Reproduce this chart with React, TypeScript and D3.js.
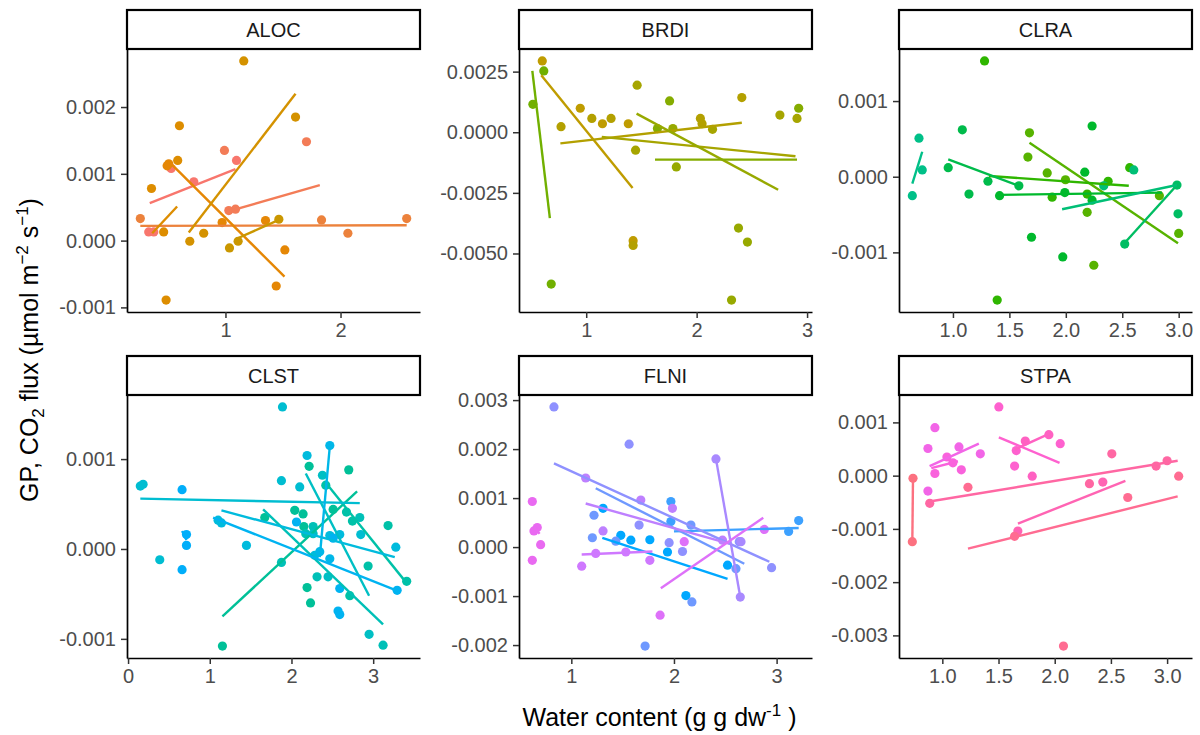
import React, { useEffect, useRef } from "react";
import * as d3 from "d3";

// each point: [water content, GP CO2 flux, fitted line index within the panel]
// each fit: [x start, y start, x end, y end] of the per-group linear fit

const species = ["ALOC", "BRDI", "CLRA", "CLST", "FLNI", "STPA"];

const alocPoints = [
  [0.333, 0.00013, 0], [0.377, 0.00013, 0], [0.528, 0.00108, 0], [0.725, 0.00088, 0], [1.096, 0.0012, 0],
  [0.991, 0.00135, 1], [1.029, 0.00045, 1], [1.087, 0.00047, 1], [1.704, 0.00148, 1],
  [0.26, 0.00033, 2], [1.835, 0.00031, 2], [2.575, 0.00033, 2], [2.064, 0.00011, 2],
  [0.507, 0.00115, 3], [0.493, 0.00112, 3], [0.971, 0.00027, 3], [1.348, 0.0003, 3], [1.516, -0.00014, 3], [1.441, -0.00068, 3],
  [0.357, 0.00078, 4], [0.463, 0.00013, 4], [0.6, 0.00172, 4], [0.585, 0.0012, 4], [0.484, -0.00089, 4],
  [0.69, -0.00001, 5], [0.811, 0.00011, 5], [1.159, 0.00269, 5], [1.609, 0.00185, 5],
  [1.11, -0.00001, 6], [1.035, -0.00011, 6], [1.464, 0.00032, 6],
];
const alocFits = [
  [0.342, 0.00056, 1.087, 0.00107],
  [1.009, 0.00043, 1.82, 0.00083],
  [0.26, 0.00022, 2.575, 0.00023],
  [0.522, 0.00116, 1.513, -0.00054],
  [0.363, 0.00011, 0.58, 0.00051],
  [0.681, 0.00012, 1.609, 0.0022],
  [1.087, 0.00002, 1.464, 0.00031],
];

const brdiPoints = [
  [0.602, 0.00294, 0], [0.946, 0.00099, 0], [1.147, 0.00035, 0], [1.381, 0.00035, 0], [1.425, -0.00447, 0],
  [0.772, 0.00023, 1], [1.051, 0.00057, 1], [1.225, 0.00057, 1], [1.425, -0.00467, 1], [2.034, 0.00057, 1], [2.049, 0.00035, 1], [2.409, 0.00143, 1],
  [1.461, 0.00194, 2], [1.447, -0.00074, 2], [2.144, 0.00012, 2], [2.754, 0.00071, 2], [2.909, 0.00057, 2],
  [1.785, 0.00015, 3], [1.816, -0.00143, 3], [2.379, -0.00395, 3], [2.46, -0.00453, 3], [2.316, -0.00692, 3],
  [1.755, 0.00129, 4], [1.645, 0.00015, 4], [2.924, 0.00099, 4],
  [0.616, 0.00253, 5], [0.517, 0.00115, 5], [0.683, -0.00626, 5],
];
const brdiFits = [
  [0.593, 0.00235, 1.42, -0.0023],
  [0.766, -0.00046, 2.409, 0.00039],
  [1.141, -0.00019, 2.895, -0.00099],
  [1.456, 0.00077, 2.738, -0.00237],
  [1.623, -0.00113, 2.909, -0.00113],
  [0.512, 0.00253, 0.671, -0.00354],
];

const clraPoints = [
  [1.678, 0.00058, 0], [1.664, 0.00026, 0], [1.835, 0.00005, 0], [1.997, -0.00004, 0], [2.189, -0.00047, 0], [2.248, -0.00117, 0], [2.829, -0.00025, 0], [3.0, -0.00075, 0],
  [1.28, 0.00153, 1], [1.392, -0.00163, 1], [1.879, -0.00027, 1], [2.189, -0.00023, 1], [2.375, -0.00006, 1], [2.566, 0.00012, 1],
  [1.413, -0.00025, 2], [1.696, -0.0008, 2], [1.991, -0.00021, 2], [2.168, 0.00006, 2], [2.233, 0.00067, 2], [2.233, -0.00031, 2], [1.973, -0.00106, 2],
  [1.083, 0.00062, 3], [0.958, 0.00012, 3], [1.142, -0.00023, 3], [1.31, -0.00006, 3], [1.584, -0.00012, 3],
  [2.522, -0.00089, 4], [2.985, -0.00011, 4], [2.994, -0.00049, 4],
  [2.336, -0.00012, 5], [2.602, 0.00009, 5],
  [0.699, 0.00051, 6], [0.728, 0.00009, 6], [0.64, -0.00025, 6],
];
const clraFits = [
  [1.678, 0.00045, 2.994, -0.00088],
  [1.319, 0.00001, 2.558, -0.00012],
  [1.407, -0.00024, 2.852, -0.00021],
  [0.958, 0.00023, 1.584, -0.00012],
  [2.513, -0.00089, 2.985, -0.00011],
  [1.967, -0.00043, 2.985, -0.00011],
  [0.64, -0.00009, 0.728, 0.00033],
];

const clstPoints = [
  [1.155, -0.00108, 0], [1.673, 0.00035, 0], [2.04, 0.00043, 0], [2.142, 0.00039, 0], [2.151, 0.00025, 0], [2.191, -0.00043, 0], [2.233, -0.0006, 0], [2.51, 0.00044, 0], [2.701, 0.00088, 0], [2.216, 0.00092, 0],
  [2.42, 0.00071, 1], [2.673, 0.00041, 1], [2.746, 0.00031, 1], [3.182, 0.00026, 1], [3.41, -0.00036, 1], [2.938, -0.00019, 1], [2.714, -0.00052, 1],
  [1.877, -0.00015, 2], [2.265, 0.00025, 2], [2.175, 0.00017, 2], [2.313, -0.00031, 2], [3.121, -0.00107, 2], [2.836, 0.00035, 2],
  [2.379, 0.00082, 3], [2.265, 0.00017, 3], [2.448, -0.00031, 3], [2.95, -0.00095, 3],
  [0.15, 0.0007, 4], [0.184, 0.00072, 4], [0.388, -0.00012, 4], [1.89, 0.00158, 4], [1.877, 0.00076, 4], [2.101, 0.00069, 4], [2.848, 0.00016, 4],
  [1.102, 0.00032, 5], [1.143, 0.00029, 5], [1.449, 0.00004, 5], [2.191, 0.00104, 5], [2.469, 0.00015, 5], [2.591, 0.00016, 5], [2.285, -0.00007, 5], [3.277, 0.00002, 5],
  [2.469, 0.00115, 6], [2.346, -0.00003, 6], [2.469, -0.00011, 6],
  [2.061, 0.0003, 7], [2.591, -0.00044, 7], [2.57, -0.00069, 7], [2.591, -0.00073, 7], [3.293, -0.00046, 7], [2.51, 0.00012, 7],
  [0.661, 0.00066, 8], [0.715, 0.00016, 8], [0.715, 0.00004, 8], [0.661, -0.00023, 8],
];
const clstFits = [
  [1.155, -0.00075, 2.803, 0.00064],
  [2.408, 0.00075, 3.41, -0.00038],
  [1.653, 0.00044, 3.121, -0.00084],
  [2.175, 0.00084, 2.95, -0.00052],
  [0.15, 0.00056, 2.836, 0.00051],
  [1.143, 0.00043, 3.264, -0.00009],
  [2.469, 0.00114, 2.346, -0.00009],
  [1.041, 0.00035, 3.305, -0.00047],
  [0.661, 0.0002, 0.715, 0.0001],
];

const flniPoints = [
  [1.309, 0.00079, 0], [1.482, 0.00024, 0], [1.58, 0.00014, 0], [1.765, 0.00015, 0], [1.937, -0.0001, 0], [2.522, -0.00037, 0], [2.116, -0.00099, 0],
  [1.97, 0.00093, 1], [1.97, 0.00052, 1], [3.117, 0.00032, 1], [3.215, 0.00054, 1],
  [1.221, 0.00065, 2], [1.205, 0.00019, 2], [1.433, 0.00012, 2], [2.165, 0.00045, 2], [2.175, -0.00112, 2], [2.604, -0.00044, 2], [1.719, -0.00202, 2],
  [0.831, 0.00286, 3], [1.563, 0.0021, 3], [1.66, 0.00045, 3], [1.953, 0.00009, 3], [2.083, -0.00009, 3], [2.636, 0.00011, 3], [2.951, -0.00042, 3],
  [2.409, 0.0018, 4], [2.646, -0.00102, 4], [2.653, 0.00011, 4],
  [1.14, 0.00141, 5], [1.677, 0.00096, 5], [1.985, 0.00079, 5], [2.473, 0.00014, 5], [1.309, 0.00033, 5],
  [1.101, -0.00039, 6], [1.238, -0.00013, 6], [1.531, -0.0001, 6], [1.765, -0.00027, 6],
  [1.865, -0.00139, 7], [2.1, 0.00011, 7], [2.88, 0.00036, 7],
  [0.62, 0.00093, 8], [0.668, 0.0004, 8], [0.636, 0.00033, 8], [0.701, 0.00005, 8], [0.62, -0.00027, 8],
];
const flniFits = [
  [1.302, 0.00019, 2.522, -0.00065],
  [2.0, 0.00032, 3.215, 0.00039],
  [1.238, 0.0012, 2.685, -0.00034],
  [0.831, 0.00171, 2.929, -0.0003],
  [2.409, 0.0018, 2.646, -0.00102],
  [1.14, 0.00089, 2.538, 0.00007],
  [1.101, -0.00015, 1.79, -0.00009],
  [1.872, -0.00084, 2.87, 0.0006],
  [0.636, 0.00041, 0.691, 0.00027],
];

const stpaPoints = [
  [0.934, 0.0009, 0], [0.872, 0.00051, 0], [1.148, 0.00054, 0], [1.338, 0.00041, 0], [0.872, -0.00029, 0],
  [1.041, 0.00035, 1], [1.094, 0.00024, 1], [1.169, 0.00011, 1], [0.934, 0.00004, 1],
  [1.503, 0.00129, 2], [1.658, 0.00047, 2], [2.049, 0.0006, 2], [1.643, 0.00018, 2],
  [1.738, 0.00065, 3], [1.948, 0.00077, 3], [1.8, -0.00001, 3],
  [1.672, -0.00104, 4], [2.428, -0.00012, 4],
  [0.888, -0.00052, 5], [2.309, -0.00015, 5], [2.902, 0.00018, 5], [3.0, 0.00028, 5], [2.508, 0.00041, 5],
  [1.228, -0.00022, 6], [1.643, -0.00114, 6], [2.65, -0.00041, 6], [3.103, -0.00001, 6], [2.078, -0.0032, 6],
  [0.739, -0.00005, 7], [0.733, -0.00124, 7],
];
const stpaFits = [
  [0.887, 0.00018, 1.325, 0.0006],
  [0.902, 0.00014, 1.139, 0.00027],
  [1.503, 0.00072, 2.043, 0.00024],
  [1.643, 0.00049, 1.954, 0.00079],
  [1.673, -0.0009, 2.629, -0.0001],
  [0.872, -0.00049, 3.094, 0.00028],
  [1.228, -0.00137, 3.094, -0.00039],
  [0.739, -0.00006, 0.733, -0.00124],
];

const xTickSets = [
  [1, 2],
  [1, 2, 3],
  [1, 1.5, 2, 2.5, 3],
  [0, 1, 2, 3],
  [1, 2, 3],
  [1, 1.5, 2, 2.5, 3],
];
const yTickSets = [
  [-0.001, 0, 0.001, 0.002],
  [-0.005, -0.0025, 0, 0.0025],
  [-0.001, 0, 0.001],
  [-0.001, 0, 0.001],
  [-0.002, -0.001, 0, 0.001, 0.002, 0.003],
  [-0.003, -0.002, -0.001, 0, 0.001],
];

const pointSets = [alocPoints, brdiPoints, clraPoints, clstPoints, flniPoints, stpaPoints];
const fitSets = [alocFits, brdiFits, clraFits, clstFits, flniFits, stpaFits];

const W = 1200;
const H = 735;
const FONT = "'Liberation Sans', Arial, Helvetica, sans-serif";
const panelLefts = [127, 519, 899];
const stripTops = [10, 356];
const panelW = 293;
const stripH = 39;
const panelH = 263;

// ggplot's default hue palette: hcl(h, c = 100, l = 65) in polar CIE-Luv
function hueColor(h: number) {
  const L = 65, C = 100;
  const hr = (h * Math.PI) / 180;
  const u = C * Math.cos(hr), v = C * Math.sin(hr);
  const Xn = 95.047, Yn = 100, Zn = 108.883;
  const den = Xn + 15 * Yn + 3 * Zn;
  const un = (4 * Xn) / den, vn = (9 * Yn) / den;
  const Y = Yn * Math.pow((L + 16) / 116, 3);
  const up = u / (13 * L) + un, vp = v / (13 * L) + vn;
  const X = (9 * Y * up) / (4 * vp);
  const Z = ((9 * Y) / vp - X - 15 * Y) / 3;
  const x = X / 100, y = Y / 100, z = Z / 100;
  const lin = [
    3.2404542 * x - 1.5371385 * y - 0.4985314 * z,
    -0.969266 * x + 1.8760108 * y + 0.041556 * z,
    0.0556434 * x - 0.2040259 * y + 1.0572252 * z,
  ];
  const [r, g, b] = lin.map((c) => {
    const s = c <= 0.0031308 ? 12.92 * c : 1.055 * Math.pow(c, 1 / 2.4) - 0.055;
    return Math.round(Math.max(0, Math.min(1, s)) * 255);
  });
  return d3.rgb(r, g, b).formatHex();
}

// same number of decimals for every label on an axis, like ggplot does
const decimalsOf = (ticks: number[]) =>
  d3.max(ticks, (t) => {
    const s = String(Math.abs(t));
    return s.includes(".") ? s.split(".")[1].length : 0;
  }) || 0;

const App = () => {
  const svgRef = useRef<SVGSVGElement>(null);

  useEffect(() => {
    const svg = d3.select(svgRef.current).attr("width", W).attr("height", H);
    svg.selectAll("*").remove();

    const nGroups = d3.sum(fitSets, (f) => f.length);
    const palette = d3.range(nGroups).map((i) => hueColor(15 + (360 * i) / nGroups));

    let offset = 0;
    species.forEach((name, i) => {
      const points = pointSets[i];
      const fits = fitSets[i];
      const col = i % 3;
      const row = Math.floor(i / 3);
      const left = panelLefts[col];
      const top = stripTops[row] + stripH;

      const xs = points.map((d) => d[0]).concat(fits.flatMap((f) => [f[0], f[2]]));
      const ys = points.map((d) => d[1]).concat(fits.flatMap((f) => [f[1], f[3]]));
      const [xMin, xMax] = d3.extent(xs) as [number, number];
      const [yMin, yMax] = d3.extent(ys) as [number, number];
      const xPad = (xMax - xMin) * 0.05;
      const yPad = (yMax - yMin) * 0.05;

      const x = d3.scaleLinear().domain([xMin - xPad, xMax + xPad]).range([0, panelW]);
      const y = d3.scaleLinear().domain([yMin - yPad, yMax + yPad]).range([panelH, 0]);

      const g = svg.append("g").attr("transform", `translate(${left},${top})`);
      const base = offset;

      g.selectAll(".dot")
        .data(points)
        .enter()
        .append("circle")
        .attr("cx", (d) => x(d[0]))
        .attr("cy", (d) => y(d[1]))
        .attr("r", 4.6)
        .attr("fill", (d) => palette[base + d[2]]);

      g.selectAll(".fit")
        .data(fits)
        .enter()
        .append("line")
        .attr("x1", (d) => x(d[0]))
        .attr("y1", (d) => y(d[1]))
        .attr("x2", (d) => x(d[2]))
        .attr("y2", (d) => y(d[3]))
        .attr("stroke", (d, j) => palette[base + j])
        .attr("stroke-width", 2.4);

      const xFmt = d3.format(`.${decimalsOf(xTickSets[i])}f`);
      const yFmt = d3.format(`.${decimalsOf(yTickSets[i])}f`);

      const styleAxis = (a: any) => {
        a.attr("font-family", FONT).attr("font-size", 20);
        a.select(".domain").attr("stroke", "#000").attr("stroke-width", 1.7);
        a.selectAll(".tick line").attr("stroke", "#333").attr("stroke-width", 1.5);
        a.selectAll(".tick text").attr("fill", "#4D4D4D");
      };

      g.append("g")
        .attr("transform", `translate(0,${panelH})`)
        .call(
          d3.axisBottom(x)
            .tickValues(xTickSets[i])
            .tickFormat((v: any) => xFmt(v))
            .tickSize(6)
            .tickPadding(5)
            .tickSizeOuter(0)
        )
        .call(styleAxis);

      g.append("g")
        .call(
          d3.axisLeft(y)
            .tickValues(yTickSets[i])
            .tickFormat((v: any) => yFmt(v).replace("−", "-"))
            .tickSize(6)
            .tickPadding(5)
            .tickSizeOuter(0)
        )
        .call(styleAxis);

      g.append("rect")
        .attr("x", 0)
        .attr("y", -stripH)
        .attr("width", panelW)
        .attr("height", stripH)
        .attr("fill", "white")
        .attr("stroke", "black")
        .attr("stroke-width", 2.2);

      g.append("text")
        .attr("x", panelW / 2)
        .attr("y", -stripH / 2)
        .attr("text-anchor", "middle")
        .attr("dominant-baseline", "central")
        .attr("font-family", FONT)
        .attr("font-size", 20)
        .attr("fill", "#1A1A1A")
        .text(name);

      offset += fits.length;
    });

    // x axis title
    const xt = svg
      .append("text")
      .attr("x", (panelLefts[0] + panelLefts[2] + panelW) / 2)
      .attr("y", 726)
      .attr("text-anchor", "middle")
      .attr("font-family", FONT)
      .attr("font-size", 25)
      .attr("fill", "#000");
    xt.append("tspan").text("Water content (g g dw");
    xt.append("tspan").attr("font-size", 17).attr("dy", -10).text("-1");
    xt.append("tspan").attr("dy", 10).text(" )");

    // y axis title
    const yt = svg
      .append("text")
      .attr("transform", "translate(38,350) rotate(-90)")
      .attr("text-anchor", "middle")
      .attr("font-family", FONT)
      .attr("font-size", 25)
      .attr("fill", "#000");
    yt.append("tspan").text("GP, CO");
    yt.append("tspan").attr("font-size", 17).attr("dy", 6).text("2");
    yt.append("tspan").attr("dy", -6).text(" flux (µmol m");
    yt.append("tspan").attr("font-size", 17).attr("dy", -10).text("−2");
    yt.append("tspan").attr("dy", 10).text(" s");
    yt.append("tspan").attr("font-size", 17).attr("dy", -10).text("−1");
    yt.append("tspan").attr("dy", 10).text(")");
  }, []);

  return (
    <div style={{ position: "absolute", left: 0, top: 0 }}>
      <svg ref={svgRef} style={{ display: "block", background: "white" }}></svg>
    </div>
  );
};

export default App;
